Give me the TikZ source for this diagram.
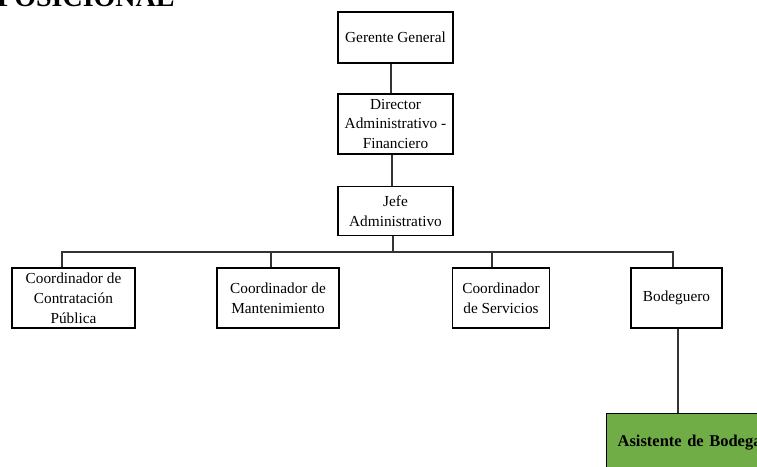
\documentclass[tikz,border=0pt]{standalone}
\usepackage{fontspec}
\setmainfont{Liberation Serif}
\definecolor{leafgreen}{HTML}{70AD47}
\definecolor{linkgray}{HTML}{333333}
\begin{document}
\begin{tikzpicture}[x=1pt,y=-1pt,
  unit/.style={draw=black,line width=1.3pt,fill=white,align=center,
    inner sep=1pt,font=\fontsize{15.3}{19.8}\selectfont},
  link/.style={draw=linkgray,line width=1.3pt}]
\useasboundingbox (0,0) rectangle (757,466);

% heading, partly above the page
\node[anchor=base west,inner sep=0pt,font=\bfseries\fontsize{28}{32}\selectfont] (title) at (-3,6) {POSICIONAL};

% upper chain
\node[unit,minimum width=115pt,minimum height=51pt] (gg) at (395.5,37.5) {Gerente General};
\node[unit,minimum width=115pt,minimum height=60pt] (daf) at (395.5,124) {Director\\Administrativo -\\Financiero};
\node[unit,minimum width=115pt,minimum height=49pt] (ja) at (395.5,211) {Jefe\\Administrativo};

% second level
\node[unit,minimum width=123pt,minimum height=60pt] (ccp) at (73.5,298) {Coordinador de\\Contratación\\Pública};
\node[unit,minimum width=122pt,minimum height=60pt] (cm) at (278,298) {Coordinador de\\Mantenimiento};
\node[unit,minimum width=97pt,minimum height=60pt] (cs) at (501,298) {Coordinador\\de Servicios};
\node[unit,minimum width=91pt,minimum height=60pt] (bod) at (676.5,298) {Bodeguero};

% assistant box, running past the right edge
\node[draw=black,line width=1.3pt,fill=leafgreen,anchor=north west,
  minimum width=170pt,minimum height=58pt,text width=170pt,inner xsep=11pt,
  align=left,font=\bfseries\fontsize{16.5}{19}\selectfont] (ab) at (606,413) {Asistente de Bodega};

% connectors
\draw[link] ([xshift=-4.5pt]gg.south) -- ([xshift=-4.5pt]daf.north);
\draw[link] ([xshift=-3.5pt]daf.south) -- ([xshift=-3.5pt]ja.north);

\coordinate (bus) at (0,252);
\coordinate (d1) at ([xshift=-11.5pt]ccp.north);
\coordinate (d2) at ([xshift=-7pt]cm.north);
\coordinate (d3) at ([xshift=-9pt]cs.north);
\coordinate (d4) at ([xshift=-3.5pt]bod.north);
\coordinate (dj) at ([xshift=-2.5pt]ja.south);

\draw[link] (dj) -- (dj |- bus);
\draw[link] (d1) -- (d1 |- bus) -- (d4 |- bus) -- (d4);
\draw[link] (d2) -- (d2 |- bus);
\draw[link] (d3) -- (d3 |- bus);

\draw[link] ([xshift=1.5pt]bod.south) -- ([xshift=1.5pt]bod.south |- ab.north);
\end{tikzpicture}
\end{document}
